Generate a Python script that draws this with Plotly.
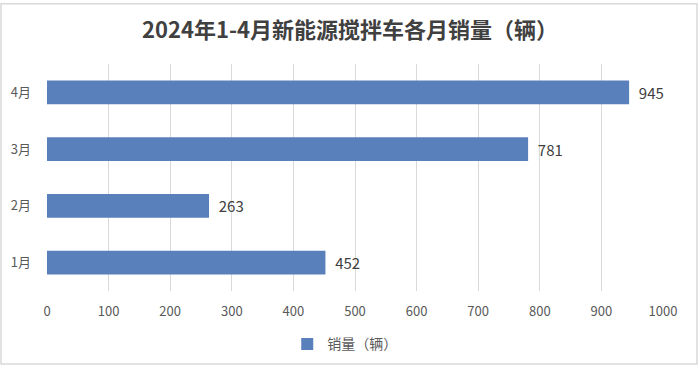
import plotly.graph_objects as go

months = ["1月", "2月", "3月", "4月"]
sales = [452, 263, 781, 945]
series_name = "销量（辆）"
title = "2024年1-4月新能源搅拌车各月销量（辆）"

font_family = "Noto Sans CJK SC, Noto Sans, sans-serif"

fig = go.Figure()
fig.add_trace(go.Bar(
    y=months, x=sales, orientation="h", name=series_name,
    marker=dict(color="#5A80BC", line=dict(width=0)),
    width=0.42,
    text=["  " + str(v) for v in sales], textposition="outside",
    textfont=dict(size=15, color="#404040", family=font_family),
    cliponaxis=False, showlegend=True,
))

fig.update_layout(
    width=700, height=372,
    margin=dict(l=47, r=37, t=64, b=78),
    paper_bgcolor="white", plot_bgcolor="white",
    font=dict(family=font_family, color="#595959"),
    title=dict(text="<b>" + title + "</b>", x=0.5, xanchor="center", y=0.918, yanchor="middle",
               font=dict(size=22, color="#404040", family=font_family)),
    xaxis=dict(range=[0, 1000], dtick=100, showgrid=True, gridcolor="#D9D9D9", gridwidth=1,
               zeroline=False, showline=False, ticks="", ticklabelstandoff=11,
               tickfont=dict(size=13, color="#595959")),
    yaxis=dict(categoryorder="array", categoryarray=months, showgrid=False, zeroline=False,
               showline=False, ticks="", ticklabelstandoff=15,
               tickfont=dict(size=13, color="#595959")),
    legend=dict(orientation="h", x=0.39, xanchor="left", y=-0.235, yanchor="middle",
                font=dict(size=14, color="#595959"), itemwidth=30),
    bargap=0.58,
    shapes=[dict(type="rect", xref="paper", yref="paper", x0=-46/616, x1=(697-47)/616,
                 y0=(294-368)/230, y1=(294-3)/230, line=dict(color="#D9D9D9", width=1.5),
                 fillcolor="rgba(0,0,0,0)", layer="below")],
)

fig.write_html("out.html", config={"displayModeBar": False},
               post_script="document.body.style.margin='0';document.body.style.overflow='hidden';")
